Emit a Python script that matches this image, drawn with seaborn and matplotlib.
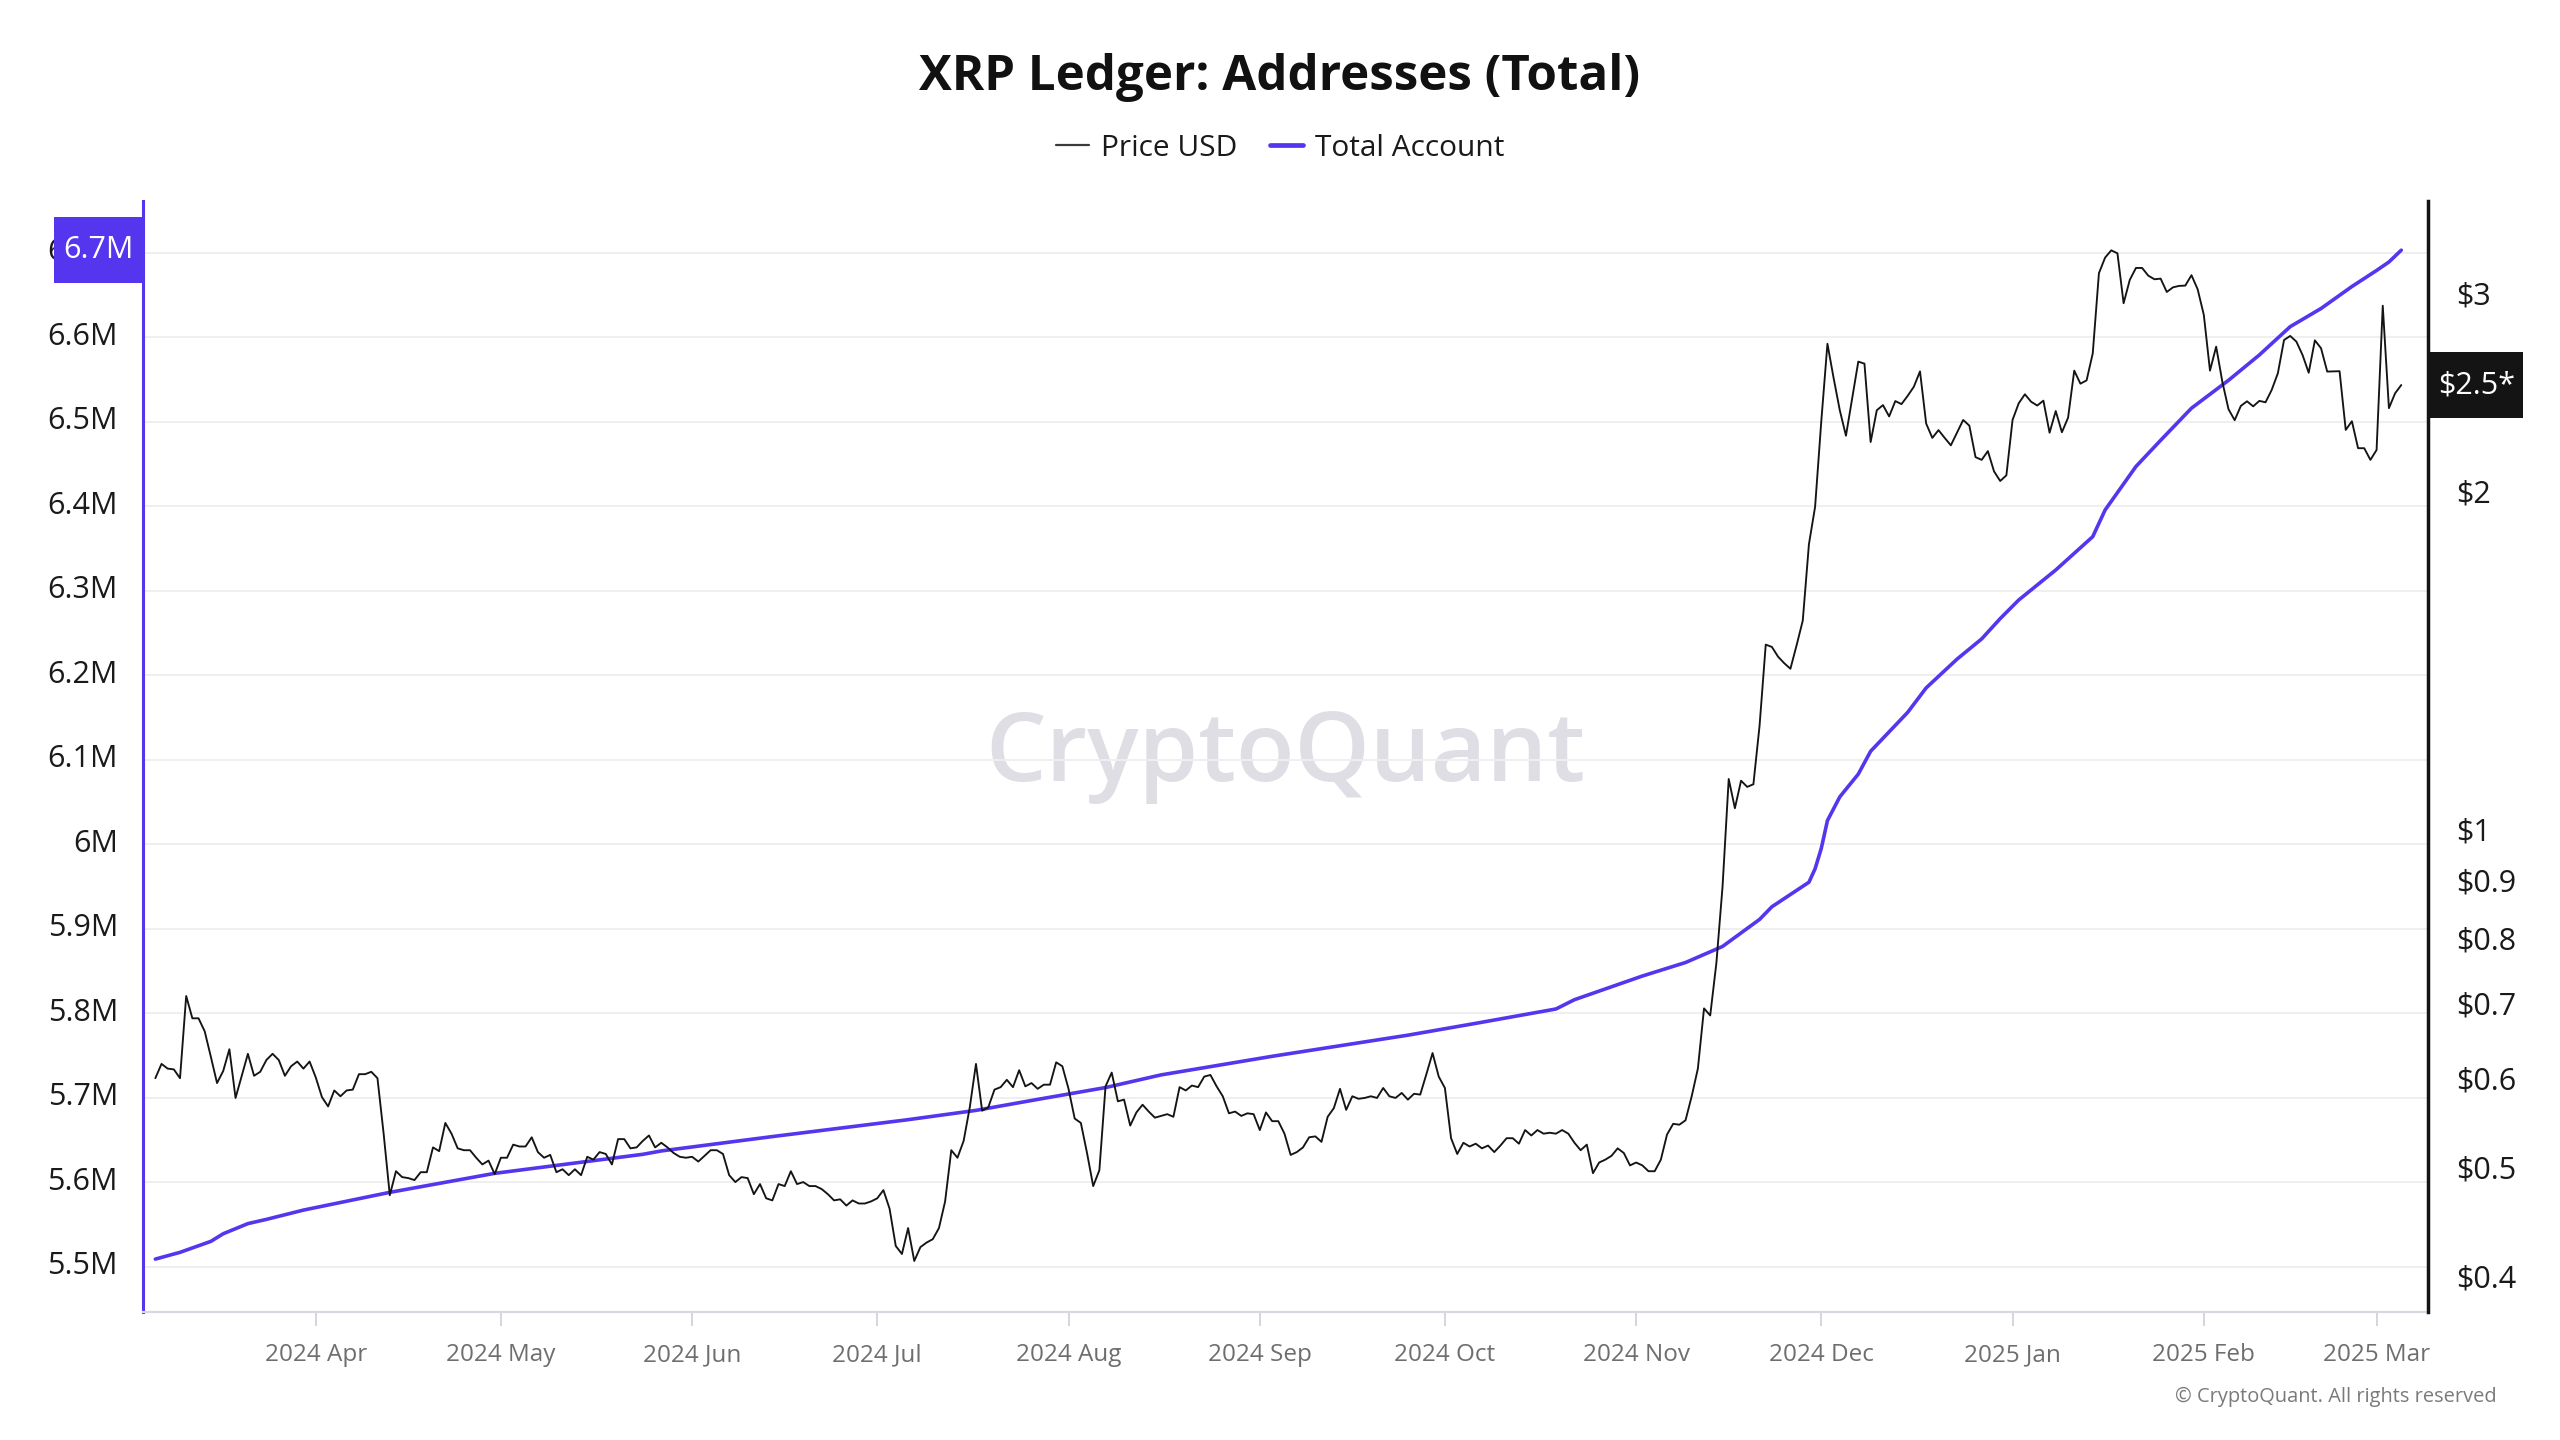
import matplotlib
matplotlib.use("Agg")
import matplotlib.pyplot as plt
import matplotlib.dates as mdates
from matplotlib.ticker import FuncFormatter, FixedLocator, NullLocator
from matplotlib.lines import Line2D
from matplotlib.path import Path
from matplotlib.transforms import ScaledTranslation
import pandas as pd
import seaborn as sns

# ---------------- data ----------------
title = "XRP Ledger: Addresses (Total)"
series_names = ["Price USD", "Total Account"]

price_start = "2024-03-06"
price_usd = [
    # Mar 2024 (from Mar 6)
    0.605, 0.623, 0.617, 0.616, 0.605, 0.716, 0.684, 0.684, 0.666, 0.632,
    0.599, 0.614, 0.642, 0.581, 0.608, 0.636, 0.608, 0.613, 0.628, 0.636,
    0.628, 0.608, 0.620, 0.626, 0.617, 0.626,
    # Apr
    0.606, 0.582, 0.571, 0.590, 0.583, 0.590, 0.591, 0.610, 0.610, 0.613,
    0.605, 0.540, 0.476, 0.500, 0.494, 0.493, 0.491, 0.499, 0.499, 0.525,
    0.521, 0.552, 0.540, 0.524, 0.522, 0.522, 0.514, 0.507, 0.511, 0.497,
    # May
    0.514, 0.514, 0.528, 0.526, 0.526, 0.536, 0.520, 0.514, 0.517, 0.499,
    0.502, 0.496, 0.502, 0.496, 0.515, 0.512, 0.520, 0.518, 0.507, 0.534,
    0.534, 0.524, 0.525, 0.532, 0.538, 0.525, 0.530, 0.525, 0.519, 0.515,
    0.514,
    # Jun
    0.515, 0.510, 0.516, 0.522, 0.522, 0.518, 0.496, 0.489, 0.494, 0.493,
    0.477, 0.487, 0.473, 0.471, 0.487, 0.485, 0.500, 0.487, 0.489, 0.485,
    0.485, 0.482, 0.477, 0.471, 0.472, 0.466, 0.471, 0.468, 0.468, 0.470,
    # Jul
    0.473, 0.481, 0.463, 0.429, 0.422, 0.445, 0.416, 0.428, 0.432, 0.435,
    0.445, 0.470, 0.522, 0.514, 0.532, 0.570, 0.623, 0.566, 0.570, 0.591,
    0.594, 0.603, 0.594, 0.615, 0.595, 0.599, 0.592, 0.597, 0.597, 0.625,
    0.620,
    # Aug
    0.592, 0.557, 0.552, 0.519, 0.485, 0.501, 0.595, 0.612, 0.577, 0.579,
    0.549, 0.564, 0.573, 0.565, 0.558, 0.560, 0.562, 0.559, 0.594, 0.590,
    0.596, 0.594, 0.607, 0.609, 0.595, 0.583, 0.563, 0.565, 0.560, 0.563,
    0.562,
    # Sep
    0.544, 0.564, 0.554, 0.554, 0.540, 0.517, 0.520, 0.525, 0.536, 0.537,
    0.531, 0.559, 0.569, 0.592, 0.567, 0.583, 0.580, 0.581, 0.583, 0.581,
    0.593, 0.583, 0.581, 0.587, 0.579, 0.586, 0.585, 0.610, 0.637, 0.607,
    # Oct
    0.593, 0.535, 0.518, 0.530, 0.526, 0.529, 0.524, 0.527, 0.520, 0.527,
    0.535, 0.535, 0.529, 0.544, 0.538, 0.544, 0.540, 0.541, 0.540, 0.544,
    0.540, 0.530, 0.522, 0.528, 0.498, 0.509, 0.512, 0.516, 0.524, 0.519,
    0.506,
    # Nov
    0.509, 0.506, 0.500, 0.500, 0.512, 0.539, 0.551, 0.550, 0.555, 0.583,
    0.617, 0.698, 0.688, 0.766, 0.896, 1.117, 1.052, 1.113, 1.099, 1.105,
    1.246, 1.471, 1.464, 1.435, 1.416, 1.400, 1.469, 1.545, 1.807, 1.951,
    # Dec
    2.324, 2.725, 2.540, 2.378, 2.257, 2.436, 2.627, 2.616, 2.228, 2.378,
    2.403, 2.348, 2.423, 2.408, 2.449, 2.495, 2.575, 2.314, 2.247, 2.283,
    2.247, 2.213, 2.271, 2.331, 2.304, 2.160, 2.148, 2.187, 2.098, 2.057,
    2.081,
    # Jan 2025
    2.331, 2.412, 2.457, 2.420, 2.401, 2.425, 2.271, 2.374, 2.273, 2.342,
    2.579, 2.511, 2.528, 2.672, 3.149, 3.251, 3.300, 3.280, 2.961, 3.106,
    3.183, 3.183, 3.133, 3.110, 3.114, 3.030, 3.059, 3.068, 3.070, 3.136,
    3.047,
    # Feb
    2.891, 2.579, 2.709, 2.521, 2.383, 2.330, 2.399, 2.422, 2.397, 2.424,
    2.417, 2.479, 2.565, 2.746, 2.769, 2.737, 2.663, 2.568, 2.744, 2.700,
    2.574, 2.575, 2.576, 2.284, 2.325, 2.200, 2.200, 2.148,
    # Mar
    2.192, 2.946, 2.388, 2.462, 2.504,
]

account_dates = [
    "2024-03-06", "2024-03-10", "2024-03-15", "2024-03-17", "2024-03-21",
    "2024-03-24", "2024-03-30", "2024-04-13", "2024-04-30", "2024-05-24",
    "2024-05-27", "2024-06-14", "2024-07-06", "2024-07-17", "2024-07-27",
    "2024-08-07", "2024-08-16", "2024-09-03", "2024-09-25", "2024-10-06",
    "2024-10-19", "2024-10-22", "2024-11-02", "2024-11-09", "2024-11-15",
    "2024-11-21", "2024-11-23", "2024-11-29", "2024-11-30", "2024-12-01",
    "2024-12-02", "2024-12-04", "2024-12-07", "2024-12-09", "2024-12-15",
    "2024-12-18", "2024-12-23", "2024-12-27", "2024-12-30", "2025-01-02",
    "2025-01-08", "2025-01-14", "2025-01-16", "2025-01-21", "2025-01-25",
    "2025-01-30", "2025-02-05", "2025-02-10", "2025-02-15", "2025-02-20",
    "2025-02-25", "2025-03-01", "2025-03-03", "2025-03-05",
]
total_account = [
    5509000, 5517000, 5530000, 5539000, 5551000,
    5556000, 5567000, 5588000, 5610500, 5633000,
    5637000, 5654000, 5674000, 5685000, 5698000,
    5712000, 5727000, 5749000, 5774000, 5788000,
    5805000, 5816000, 5844000, 5860000, 5879000,
    5911000, 5926000, 5955000, 5971000, 5995000,
    6028000, 6056000, 6083000, 6110000, 6156000,
    6185000, 6219000, 6243000, 6267000, 6289000,
    6324500, 6364000, 6395500, 6447000, 6478000,
    6516000, 6549000, 6579000, 6612500, 6634000,
    6660000, 6679000, 6689000, 6703000,
]

left_ticks = [5.5e6, 5.6e6, 5.7e6, 5.8e6, 5.9e6, 6.0e6, 6.1e6,
              6.2e6, 6.3e6, 6.4e6, 6.5e6, 6.6e6, 6.7e6]
right_ticks = [0.4, 0.5, 0.6, 0.7, 0.8, 0.9, 1, 2, 3]
month_ticks = pd.date_range("2024-04-01", "2025-03-01", freq="MS")

# ---------------- style ----------------
PURPLE = "#5536ee"
BLACK = "#141414"
W, H = 2560, 1440

sns.set_theme(style="white")
plt.rcParams["font.family"] = ["Open Sans", "DejaVu Sans"]

fig = plt.figure(figsize=(W / 100, H / 100), dpi=100)
fig.patch.set_facecolor("white")
L, R, T, B = 143, 2428, 201, 1312
ax = fig.add_axes([L / W, 1 - B / H, (R - L) / W, (B - T) / H])
ax2 = ax.twinx()

df_price = pd.DataFrame({
    "date": pd.date_range(price_start, periods=len(price_usd), freq="D"),
    "price": price_usd,
})
df_acc = pd.DataFrame({"date": pd.to_datetime(account_dates),
                       "total": total_account})

sns.lineplot(data=df_acc, x="date", y="total", ax=ax, color=PURPLE,
             linewidth=2.6, zorder=3)
sns.lineplot(data=df_price, x="date", y="price", ax=ax2, color=BLACK,
             linewidth=1.35, zorder=4)

for a in (ax, ax2):
    a.set_xlabel("")
    a.set_ylabel("")

ax.set_xlim(pd.Timestamp("2024-03-04"), pd.Timestamp("2025-03-09 08:00"))
ax.set_ylim(5.4464e6, 6.7612e6)
ax2.set_yscale("log")
ax2.set_ylim(0.3747, 3.651)

# left axis
ax.yaxis.set_major_locator(FixedLocator(left_ticks))
ax.yaxis.set_major_formatter(FuncFormatter(lambda v, p: f"{v / 1e6:g}M"))
ax.tick_params(axis="y", length=0, pad=18, labelsize=22, labelcolor="#1a1a1a")
ax.yaxis.grid(True, color="#efefef", linewidth=1.4)
ax.xaxis.grid(False)

# right axis
ax2.yaxis.set_major_locator(FixedLocator(right_ticks))
ax2.yaxis.set_minor_locator(NullLocator())
ax2.yaxis.set_major_formatter(FuncFormatter(lambda v, p: f"${v:g}"))
ax2.tick_params(axis="y", which="both", length=0, pad=20, labelsize=22,
                labelcolor="#1a1a1a")
ax2.grid(False)

# nudge y tick labels up slightly (font baseline difference)
up = ScaledTranslation(0, 4 / 100, fig.dpi_scale_trans)
for lab in ax.get_yticklabels() + ax2.get_yticklabels():
    lab.set_transform(lab.get_transform() + up)

# x axis
ax.xaxis.set_major_locator(FixedLocator(mdates.date2num(month_ticks)))
ax.xaxis.set_major_formatter(mdates.DateFormatter("%Y %b"))
ax.tick_params(axis="x", length=10, width=1.4, color="#d5d5dd", pad=12.5,
               labelsize=17.5, labelcolor="#6e6e6e", bottom=True)

# spines
for s in ("top", "right"):
    ax.spines[s].set_visible(False)
ax.spines["left"].set_color(PURPLE)
ax.spines["left"].set_linewidth(2.2)
ax.spines["bottom"].set_color("#d8d8e0")
ax.spines["bottom"].set_linewidth(1.6)
for s in ("top", "left", "bottom"):
    ax2.spines[s].set_visible(False)
ax2.spines["right"].set_color(BLACK)
ax2.spines["right"].set_linewidth(2.5)


# last value tags (wider vertical padding than horizontal)
def tag_box(x0, y0, width, height, mutation_size):
    px = 0.28 * mutation_size
    py = 0.58 * mutation_size
    verts = [(x0 - px, y0 - py), (x0 + width + px, y0 - py),
             (x0 + width + px, y0 + height + py), (x0 - px, y0 + height + py),
             (x0 - px, y0 - py)]
    return Path(verts, closed=True)


last_acc = total_account[-1]
ax.annotate(f"{last_acc / 1e6:.1f}M", xy=(0, last_acc),
            xycoords=("axes fraction", "data"), xytext=(-7, 0),
            textcoords="offset points", ha="right", va="center",
            fontsize=22, color="white", zorder=10, annotation_clip=False,
            bbox=dict(boxstyle=tag_box, fc=PURPLE, ec="none"))
last_price = price_usd[-1]
ax2.annotate(f"${last_price:.1f}*", xy=(1, last_price),
             xycoords=("axes fraction", "data"), xytext=(7, 0),
             textcoords="offset points", ha="left", va="center",
             fontsize=22, color="white", zorder=10, annotation_clip=False,
             bbox=dict(boxstyle=tag_box, fc=BLACK, ec="none"))

# watermark
ax.text(0.4998, 0.5005, "CryptoQuant", transform=ax.transAxes,
        ha="center", va="center", fontsize=69, color="#dfdee5",
        fontweight="semibold", zorder=0)

# title, legend, credit
fig.text(0.5, 1 - 78 / H, title, ha="center", va="center",
         fontsize=35.5, fontweight="bold", color="#111111")
handles = [Line2D([0], [0], color="#3a3a3a", linewidth=1.6),
           Line2D([0], [0], color=PURPLE, linewidth=3.4)]
leg = fig.legend(handles, series_names, loc="center",
                 bbox_to_anchor=(0.5, 1 - 148 / H), ncol=2, frameon=False,
                 fontsize=21.5, handlelength=1.1, handletextpad=0.4,
                 columnspacing=1.1)
for t in leg.get_texts():
    t.set_color("#1a1a1a")
fig.text(2497 / W, 1 - 1397 / H, "\u00a9 CryptoQuant. All rights reserved",
         ha="right", va="center", fontsize=14.4, color="#7a7a7a")

fig.savefig("out.png", dpi=100, facecolor="white")
